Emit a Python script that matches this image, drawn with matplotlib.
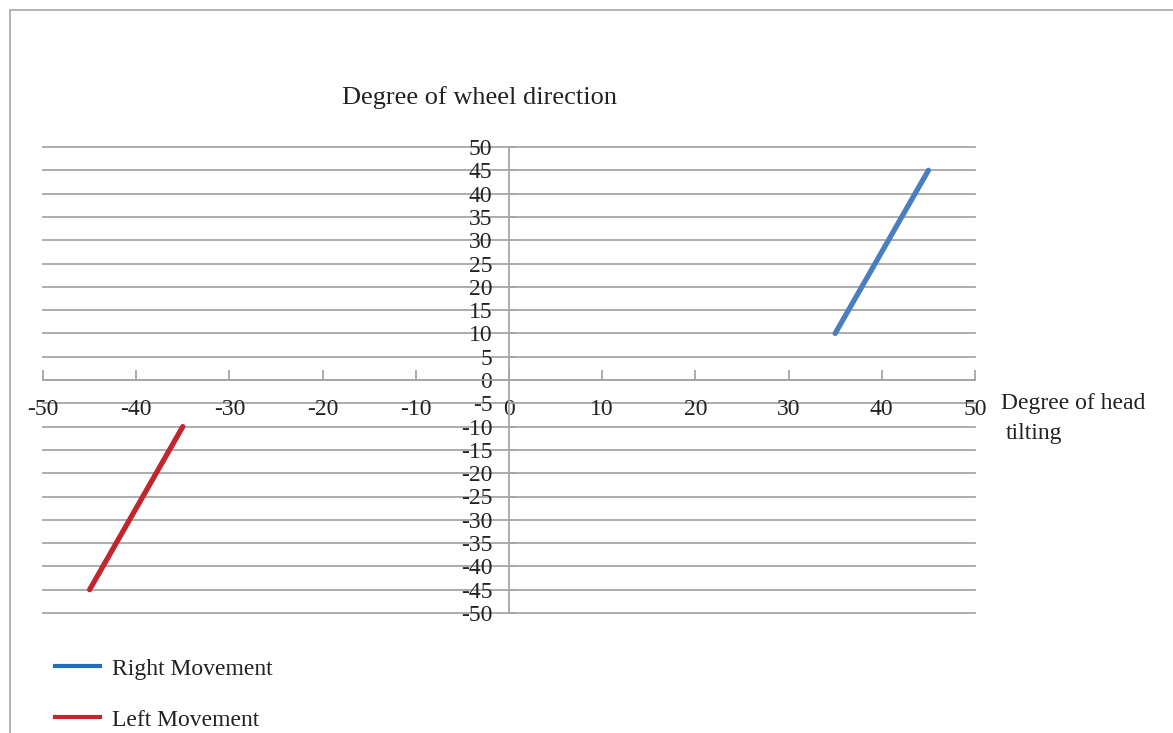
import matplotlib
matplotlib.use("Agg")
import matplotlib.pyplot as plt
from matplotlib.patches import Rectangle
from matplotlib.lines import Line2D

plt.rcParams['font.family'] = ['Liberation Serif', 'DejaVu Serif']

# Data
right_x = [35, 45]
right_y = [10, 45]
left_x = [-45, -35]
left_y = [-45, -10]
x_ticks = list(range(-50, 51, 10))
y_ticks = list(range(-50, 51, 5))
series_names = ["Right Movement", "Left Movement"]
line_colors = ["#4A7EBF", "#C0262D"]
legend_colors = ["#1F6FBF", "#C0262D"]

W, H = 1173, 733
fig = plt.figure(figsize=(W / 100, H / 100), dpi=100)
fig.patch.set_facecolor("white")

# outer chart border
fig.add_artist(Rectangle((10 / W, -0.1), 1.2, 1 - 10 / H + 0.1, transform=fig.transFigure,
                         fill=False, edgecolor="#a6a6a6", linewidth=1.2))

ax = fig.add_axes([43 / W, 1 - 613 / H, (975 - 43) / W, (613 - 147) / H])
ax.set_xlim(-50, 50)
ax.set_ylim(-50, 50)

grid_c = "#a6a6a6"
for yv in y_ticks:
    ax.axhline(yv, color=grid_c, linewidth=1.3, zorder=1, clip_on=False)

for s in ["top", "right"]:
    ax.spines[s].set_visible(False)
ax.spines["left"].set_position(("data", 0))
ax.spines["bottom"].set_position(("data", 0))
for s in ["left", "bottom"]:
    ax.spines[s].set_color(grid_c)
    ax.spines[s].set_linewidth(1.3)

ax.set_xticks(x_ticks)
ax.set_xticklabels([str(v) for v in x_ticks])
ax.set_yticks(y_ticks)
ax.set_yticklabels([str(v) for v in y_ticks])
ax.tick_params(axis="x", direction="in", length=7, width=1.3, color=grid_c,
               pad=13.5, labelsize=17, labelcolor="#222222")
ax.tick_params(axis="y", direction="in", length=4, width=1.3, color=grid_c,
               pad=12, labelsize=17, labelcolor="#222222")

ax.plot(right_x, right_y, color=line_colors[0], linewidth=3.8,
        solid_capstyle="round", zorder=3)
ax.plot(left_x, left_y, color=line_colors[1], linewidth=3.8,
        solid_capstyle="round", zorder=3)

fig.text(480 / W, 1 - 98 / H, "Degree of wheel direction", ha="center", va="center",
         fontsize=19, color="#222222")
fig.text(1001 / W, 1 - 403 / H, "Degree of head", ha="left", va="center",
         fontsize=17, color="#222222")
fig.text(1006 / W, 1 - 433 / H, "tilting", ha="left", va="center",
         fontsize=17, color="#222222")

# legend
for i, (name, c) in enumerate(zip(series_names, legend_colors)):
    yy = 1 - (666 + i * 51) / H
    fig.add_artist(Line2D([55 / W, 100 / W], [yy, yy], transform=fig.transFigure,
                          color=c, linewidth=3))
    fig.text(112 / W, yy - 3 / H, name, ha="left", va="center", fontsize=17, color="#222222")

fig.savefig("out.png", dpi=100)
